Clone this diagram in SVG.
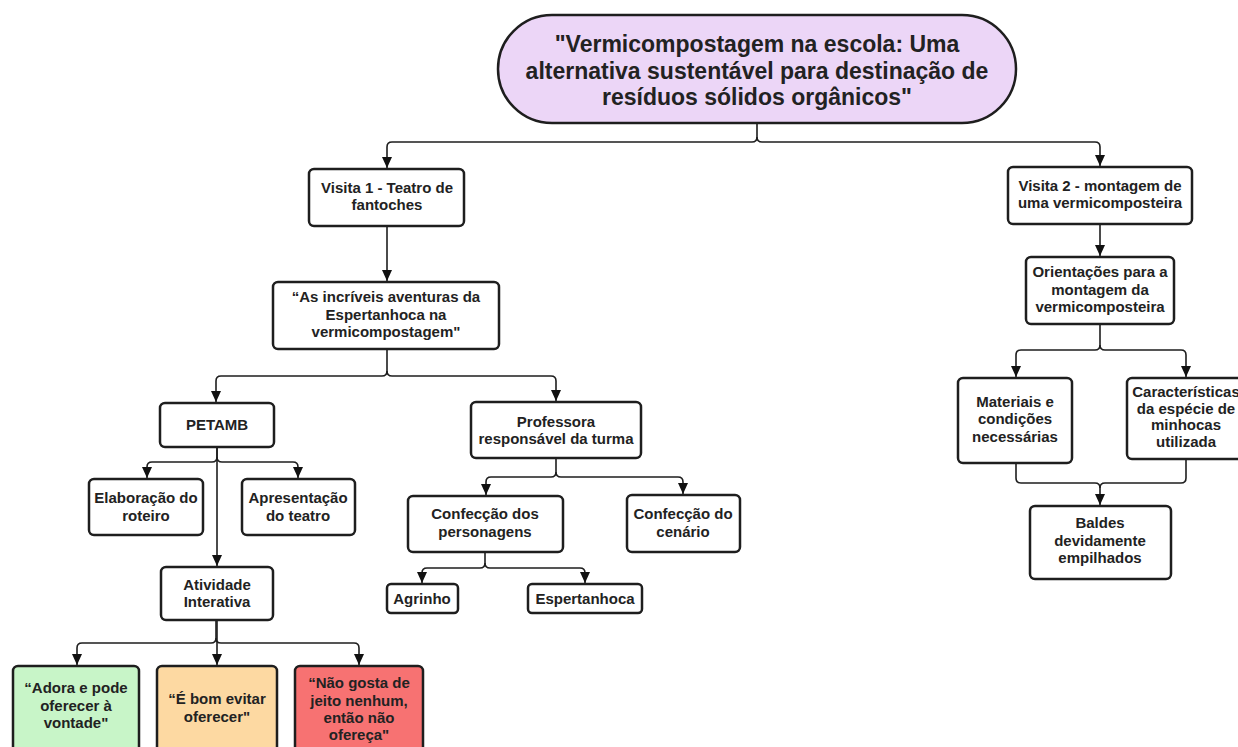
<svg xmlns="http://www.w3.org/2000/svg" width="1238" height="747" viewBox="0 0 1238 747">
<defs>
<style>
.box{fill:#ffffff;stroke:#1e1e1e;stroke-width:2.5}
.t{font-family:"Liberation Sans",Arial,sans-serif;font-weight:bold;font-size:15px;fill:#222;text-anchor:middle}
.rt{font-family:"Liberation Sans",Arial,sans-serif;font-weight:bold;font-size:23px;fill:#222;text-anchor:middle}
.c{fill:none;stroke:#1e1e1e;stroke-width:1.6}
</style>
<marker id="ah" markerUnits="userSpaceOnUse" markerWidth="12" markerHeight="14" refX="11" refY="6" orient="auto">
<path d="M0,1 L11,6 L0,11 Z" fill="#111"/>
</marker>
</defs>
<rect width="1238" height="747" fill="#ffffff"/>

<g id="connectors">
<path class="c" d="M757 123 V137 Q757 142 752 142 H392 Q387 142 387 147 V168" marker-end="url(#ah)"/>
<path class="c" d="M757 137 Q757 142 762 142 H1095 Q1100 142 1100 147 V166" marker-end="url(#ah)"/>
<path class="c" d="M387 226 V281" marker-end="url(#ah)"/>
<path class="c" d="M387 349 V371 Q387 376 382 376 H221 Q216 376 216 381 V402" marker-end="url(#ah)"/>
<path class="c" d="M387 371 Q387 376 392 376 H551 Q556 376 556 381 V401" marker-end="url(#ah)"/>
<path class="c" d="M217 447 V457 Q217 462 212 462 H152 Q147 462 147 467 V478" marker-end="url(#ah)"/>
<path class="c" d="M217 457 Q217 462 222 462 H293 Q298 462 298 467 V478" marker-end="url(#ah)"/>
<path class="c" d="M217 447 V566" marker-end="url(#ah)"/>
<path class="c" d="M216 620 V638 Q216 643 211 643 H82 Q77 643 77 648 V665" marker-end="url(#ah)"/>
<path class="c" d="M216 638 Q216 643 221 643 H354 Q359 643 359 648 V665" marker-end="url(#ah)"/>
<path class="c" d="M217 620 V665" marker-end="url(#ah)"/>
<path class="c" d="M556 458 V472 Q556 477 551 477 H491 Q486 477 486 482 V495" marker-end="url(#ah)"/>
<path class="c" d="M556 472 Q556 477 561 477 H678 Q683 477 683 482 V494" marker-end="url(#ah)"/>
<path class="c" d="M485 552 V563 Q485 568 480 568 H427 Q422 568 422 573 V583" marker-end="url(#ah)"/>
<path class="c" d="M485 563 Q485 568 490 568 H580 Q585 568 585 573 V583" marker-end="url(#ah)"/>
<path class="c" d="M1100 224 V256" marker-end="url(#ah)"/>
<path class="c" d="M1100 324 V345 Q1100 350 1095 350 H1021 Q1016 350 1016 355 V377" marker-end="url(#ah)"/>
<path class="c" d="M1100 345 Q1100 350 1105 350 H1181 Q1186 350 1186 355 V377" marker-end="url(#ah)"/>
<path class="c" d="M1016 463 V478 Q1016 483 1021 483 H1095 Q1100 483 1100 488 V505" marker-end="url(#ah)"/>
<path class="c" d="M1186 459 V478 Q1186 483 1181 483 H1105 Q1100 483 1100 488"/>
</g>

<g id="root">
<rect x="498" y="15" width="518" height="108" rx="54" ry="54" fill="#ecd6f7" stroke="#1e1e1e" stroke-width="2.5"/>
<text class="rt" x="757" y="52">"Vermicompostagem na escola: Uma</text>
<text class="rt" x="757" y="79">alternativa sustentável para destinação de</text>
<text class="rt" x="757" y="105">resíduos sólidos orgânicos"</text>
</g>

<g id="visita1">
<rect class="box" x="309" y="169" width="155" height="57" rx="5"/>
<text class="t" x="387" y="193">Visita 1 - Teatro de</text>
<text class="t" x="387" y="210">fantoches</text>
</g>

<g id="aventuras">
<rect class="box" x="273" y="282" width="226" height="67" rx="5"/>
<text class="t" x="386" y="302">“As incríveis aventuras da</text>
<text class="t" x="386" y="319.5">Espertanhoca na</text>
<text class="t" x="386" y="337">vermicompostagem"</text>
</g>

<g id="petamb">
<rect class="box" x="160" y="403" width="114" height="44" rx="5"/>
<text class="t" x="217" y="430">PETAMB</text>
</g>

<g id="elaboracao">
<rect class="box" x="89" y="479" width="114" height="56" rx="5"/>
<text class="t" x="146" y="503">Elaboração do</text>
<text class="t" x="146" y="521">roteiro</text>
</g>

<g id="apresentacao">
<rect class="box" x="242" y="479" width="113" height="56" rx="5"/>
<text class="t" x="298" y="503">Apresentação</text>
<text class="t" x="298" y="521">do teatro</text>
</g>

<g id="atividade">
<rect class="box" x="161" y="567" width="112" height="53" rx="5"/>
<text class="t" x="217" y="590">Atividade</text>
<text class="t" x="217" y="607">Interativa</text>
</g>

<g id="adora">
<rect x="13" y="666" width="126" height="95" rx="5" fill="#c8f5c8" stroke="#1e1e1e" stroke-width="2.5"/>
<text class="t" x="76" y="693">“Adora e pode</text>
<text class="t" x="76" y="711">oferecer à</text>
<text class="t" x="76" y="728">vontade"</text>
</g>

<g id="evitar">
<rect x="157" y="666" width="120" height="95" rx="5" fill="#fdd9a2" stroke="#1e1e1e" stroke-width="2.5"/>
<text class="t" x="217" y="704">“É bom evitar</text>
<text class="t" x="217" y="722">oferecer"</text>
</g>

<g id="naogosta">
<rect x="295" y="666" width="128" height="95" rx="5" fill="#f77272" stroke="#1e1e1e" stroke-width="2.5"/>
<text class="t" x="359" y="688">“Não gosta de</text>
<text class="t" x="359" y="706">jeito nenhum,</text>
<text class="t" x="359" y="723">então não</text>
<text class="t" x="359" y="740">ofereça"</text>
</g>

<g id="professora">
<rect class="box" x="471" y="402" width="170" height="56" rx="5"/>
<text class="t" x="556" y="427">Professora</text>
<text class="t" x="556" y="444">responsável da turma</text>
</g>

<g id="personagens">
<rect class="box" x="408" y="496" width="155" height="56" rx="5"/>
<text class="t" x="485" y="519">Confecção dos</text>
<text class="t" x="485" y="537">personagens</text>
</g>

<g id="cenario">
<rect class="box" x="627" y="495" width="113" height="57" rx="5"/>
<text class="t" x="683" y="519">Confecção do</text>
<text class="t" x="683" y="537">cenário</text>
</g>

<g id="agrinho">
<rect class="box" x="387" y="584" width="71" height="29" rx="4"/>
<text class="t" x="422" y="604">Agrinho</text>
</g>

<g id="espertanhoca">
<rect class="box" x="528" y="584" width="114" height="29" rx="4"/>
<text class="t" x="585" y="604">Espertanhoca</text>
</g>

<g id="visita2">
<rect class="box" x="1008" y="167" width="184" height="57" rx="5"/>
<text class="t" x="1100" y="191">Visita 2 - montagem de</text>
<text class="t" x="1100" y="208">uma vermicomposteira</text>
</g>

<g id="orientacoes">
<rect class="box" x="1026" y="257" width="148" height="67" rx="5"/>
<text class="t" x="1100" y="277">Orientações para a</text>
<text class="t" x="1100" y="295">montagem da</text>
<text class="t" x="1100" y="312">vermicomposteira</text>
</g>

<g id="materiais">
<rect class="box" x="958" y="378" width="114" height="85" rx="5"/>
<text class="t" x="1015" y="407">Materiais e</text>
<text class="t" x="1015" y="424">condições</text>
<text class="t" x="1015" y="442">necessárias</text>
</g>

<g id="caracteristicas">
<rect class="box" x="1127" y="378" width="120" height="81" rx="5"/>
<text class="t" x="1186" y="397">Características</text>
<text class="t" x="1186" y="413.5">da espécie de</text>
<text class="t" x="1186" y="430">minhocas</text>
<text class="t" x="1186" y="447">utilizada</text>
</g>

<g id="baldes">
<rect class="box" x="1030" y="506" width="141" height="73" rx="5"/>
<text class="t" x="1100" y="528">Baldes</text>
<text class="t" x="1100" y="546">devidamente</text>
<text class="t" x="1100" y="563">empilhados</text>
</g>
</svg>
